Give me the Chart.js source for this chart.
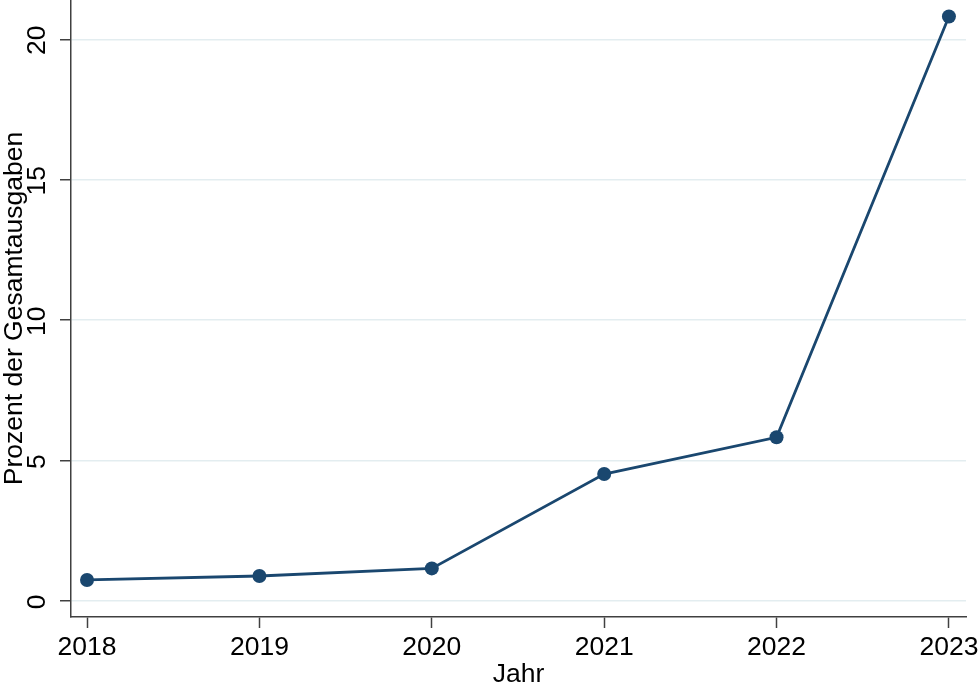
<!DOCTYPE html>
<html>
<head>
<meta charset="utf-8">
<script src="https://cdn.jsdelivr.net/npm/chart.js@4.4.1/dist/chart.umd.min.js"></script>
<style>
  html, body { margin: 0; padding: 0; background: #fff; }
  #wrap { width: 980px; height: 682px; position: relative; }
</style>
</head>
<body>
<div id="wrap"><canvas id="chart"></canvas></div>
<script>
// data
var years = [2018, 2019, 2020, 2021, 2022, 2023];
var shareOfTotal = [0.75, 0.89, 1.16, 4.52, 5.83, 20.81];
var yTickValues = [0, 5, 10, 15, 20];

var navy = '#1a476f';
var axisGray = '#404040';
var FONT = "'Liberation Sans', Arial, sans-serif";
var FONT_SIZE = 26.5;

// y tick labels are rotated in the original, so draw them by hand from the scale
var rotatedYLabels = {
    id: 'rotatedYLabels',
    afterDraw: function (chart) {
        var ctx = chart.ctx;
        var yScale = chart.scales.y;
        ctx.save();
        ctx.font = FONT_SIZE + 'px ' + FONT;
        ctx.fillStyle = '#000';
        ctx.textAlign = 'center';
        ctx.textBaseline = 'middle';
        yTickValues.forEach(function (v) {
            var py = yScale.getPixelForValue(v);
            ctx.save();
            ctx.translate(37, py);
            ctx.rotate(-Math.PI / 2);
            ctx.fillText(String(v), -1, 1);
            ctx.restore();
        });
        ctx.restore();
    }
};

var points = years.map(function (yr, i) {
    return { x: yr, y: shareOfTotal[i] };
});

var ctx = document.getElementById('chart').getContext('2d');
var chart = new Chart(ctx, {
    type: 'line',
    data: {
        datasets: [{
            data: points,
            borderColor: navy,
            backgroundColor: navy,
            borderWidth: 2.8,
            pointRadius: 7,
            pointBackgroundColor: navy,
            pointBorderColor: navy,
            pointBorderWidth: 0,
            tension: 0,
            clip: false
        }]
    },
    options: {
        responsive: true,
        maintainAspectRatio: false,
        animation: false,
        layout: { autoPadding: false, padding: { top: 0, right: 14, left: 0, bottom: 0 } },
        plugins: {
            legend: { display: false },
            tooltip: { enabled: false }
        },
        scales: {
            x: {
                type: 'linear',
                min: 2017.907,
                max: 2023.099,
                afterFit: function (scale) {
                    scale.height = 65;
                    scale.paddingLeft = 0;
                    scale.paddingRight = 0;
                },
                ticks: {
                    stepSize: 1,
                    includeBounds: false,
                    autoSkip: false,
                    maxRotation: 0,
                    color: '#000',
                    padding: 4,
                    font: { family: FONT, size: FONT_SIZE },
                    callback: function (v) { return String(v); }
                },
                grid: {
                    drawOnChartArea: false,
                    drawTicks: true,
                    tickLength: 11,
                    tickColor: axisGray,
                    tickWidth: 1.5
                },
                border: { display: true, color: axisGray, width: 1.5 },
                title: {
                    display: true,
                    text: 'Jahr',
                    color: '#000',
                    font: { family: FONT, size: FONT_SIZE },
                    padding: { top: 0, bottom: -9 }
                }
            },
            y: {
                min: -0.57,
                max: 21.4,
                afterFit: function (scale) { scale.width = 71; },
                ticks: {
                    stepSize: 5,
                    includeBounds: false,
                    display: false
                },
                grid: {
                    color: '#e3edf0',
                    lineWidth: 1.5,
                    drawTicks: true,
                    tickLength: 11,
                    tickColor: axisGray,
                    tickWidth: 1.5
                },
                border: { display: true, color: axisGray, width: 1.5 },
                title: {
                    display: true,
                    text: 'Prozent der Gesamtausgaben',
                    color: '#000',
                    font: { family: FONT, size: FONT_SIZE },
                    padding: { top: -1, bottom: 0 }
                }
            }
        }
    },
    plugins: [rotatedYLabels]
});
</script>
</body>
</html>
